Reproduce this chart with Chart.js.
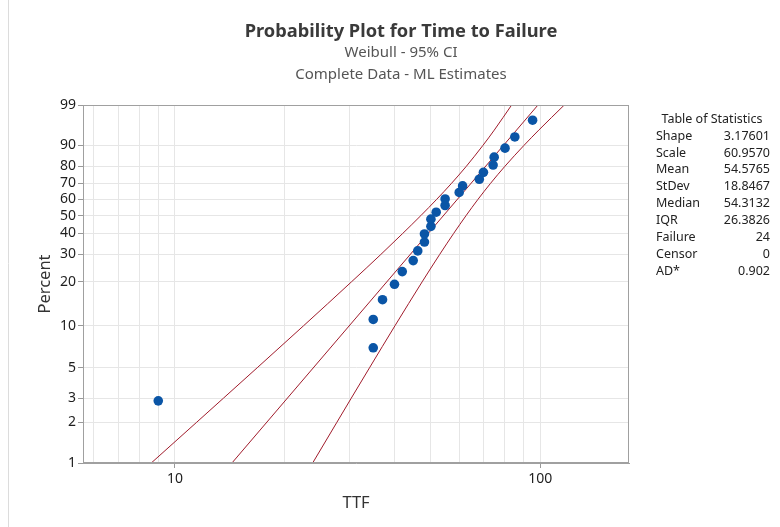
<!DOCTYPE html>
<html><head><meta charset="utf-8">
<script src="https://cdn.jsdelivr.net/npm/chart.js@4.4.1/dist/chart.umd.min.js"></script>
<style>html,body{margin:0;padding:0;background:#fff}</style>
</head><body>
<canvas id="c" width="780" height="527"></canvas>
<script>
// ---- data ----
const ttf = [9.0, 34.9, 34.9, 37.0, 39.9, 41.9, 44.9, 46.2, 48.2, 48.2, 50.2, 50.2,
             51.9, 54.9, 54.9, 60.0, 61.3, 68.1, 69.9, 74.3, 74.8, 80.1, 85.2, 95.3];
const percent = [2.869, 6.967, 11.066, 15.164, 19.262, 23.361, 27.459, 31.557, 35.656, 39.754, 43.852, 47.951,
                 52.049, 56.148, 60.246, 64.344, 68.443, 72.541, 76.639, 80.738, 84.836, 88.934, 93.033, 97.131];
const fitT = [14.32, 98.60];
const fitP = [1, 99];
const ciP     = [1, 2, 3, 5, 10, 20, 30, 40, 50, 60, 70, 80, 90, 95, 99];
const ciLower = [8.61, 11.47, 13.57, 16.79, 22.50, 30.42, 36.61, 42.02, 47.10, 52.06, 57.15, 62.71, 69.65, 74.84, 83.51];
const ciUpper = [23.82, 27.76, 30.38, 34.09, 40.03, 47.50, 53.05, 57.93, 62.64, 67.55, 73.09, 79.98, 90.21, 99.09, 116.39];
const yTicks = [1, 2, 3, 5, 10, 20, 30, 40, 50, 60, 70, 80, 90, 99];
const xGrid = [6, 7, 8, 9, 10, 20, 30, 40, 50, 60, 70, 80, 90, 100];
const xLabels = [10, 100];
const xMin = 5.6, xMax = 175;
const titleText = 'Probability Plot for Time to Failure';
const subTexts = ['Weibull - 95% CI', 'Complete Data - ML Estimates'];
const statTitle = 'Table of Statistics';
const statLabels = ['Shape', 'Scale', 'Mean', 'StDev', 'Median', 'IQR', 'Failure', 'Censor', 'AD*'];
const statValues = ['3.17601', '60.9570', '54.5765', '18.8467', '54.3132', '26.3826', '24', '0', '0.902'];

// Weibull probability axis transform
const wb = p => Math.log(-Math.log(1 - p / 100));
const pts = (xs, ps) => xs.map((x, i) => ({x: x, y: wb(ps[i])}));

const FONT = "'Noto Sans', 'Open Sans', sans-serif";
const RED = '#a01b2b';

const decor = {
  id: 'decor',
  beforeDraw(chart) {
    const c = chart.ctx;
    c.save();
    c.strokeStyle = '#dcdcdc'; c.lineWidth = 1;
    c.beginPath(); c.moveTo(8.5, 0); c.lineTo(8.5, 527); c.stroke();
    c.restore();
  },
  afterDraw(chart) {
    const c = chart.ctx, a = chart.chartArea;
    c.save();
    c.strokeStyle = '#a0a0a0'; c.lineWidth = 1;
    c.strokeRect(Math.round(a.left) + 0.5, Math.round(a.top) + 0.5,
                 Math.round(a.right - a.left) - 1, Math.round(a.bottom - a.top) - 1);
    c.textAlign = 'center'; c.textBaseline = 'middle';
    c.fillStyle = '#3a3a3a';
    c.font = "bold 18.3px " + FONT;
    c.fillText(titleText, 401, 32);
    c.fillStyle = '#555';
    c.font = "15px " + FONT;
    c.fillText(subTexts[0], 401, 53);
    c.fillText(subTexts[1], 401, 75);
    c.fillStyle = '#222';
    c.font = "12.5px " + FONT;
    c.fillText(statTitle, 712, 119);
    statLabels.forEach((l, i) => {
      const y = 136 + i * 16.95;
      c.textAlign = 'left'; c.fillText(l, 656, y);
      c.textAlign = 'right'; c.fillText(statValues[i], 770, y);
    });
    c.restore();
  }
};

const lineDs = (data) => ({
  type: 'scatter', data: data, showLine: true, borderColor: RED, borderWidth: 1,
  pointRadius: 0, fill: false, tension: 0, cubicInterpolationMode: 'monotone'
});

new Chart(document.getElementById('c'), {
  type: 'scatter',
  data: {
    datasets: [
      {data: pts(ttf, percent), backgroundColor: '#0a55a6', borderWidth: 0, pointRadius: 4.8, pointHoverRadius: 4.8},
      lineDs(pts(fitT, fitP)),
      lineDs(pts(ciLower, ciP)),
      lineDs(pts(ciUpper, ciP))
    ]
  },
  options: {
    responsive: false, animation: false, devicePixelRatio: 1,
    layout: {padding: {left: 0, right: 151, top: 105, bottom: 0}},
    plugins: {legend: {display: false}, tooltip: {enabled: false}, title: {display: false}},
    scales: {
      x: {
        type: 'logarithmic', min: xMin, max: xMax,
        afterBuildTicks: s => { s.ticks = xGrid.map(v => ({value: v})); },
        afterFit: s => { s.height = 64; },
        ticks: {
          autoSkip: false, maxRotation: 0, padding: 3, color: '#1e1e1e',
          font: {family: FONT, size: 14},
          callback: v => xLabels.includes(v) ? String(v) : ''
        },
        grid: {
          color: '#e6e6e6', lineWidth: 1, tickLength: 5,
          tickColor: ctx => (ctx.tick && xLabels.includes(ctx.tick.value)) ? '#999' : 'rgba(0,0,0,0)'
        },
        border: {display: true, color: '#a0a0a0'},
        title: {display: true, text: 'TTF', color: '#333', font: {family: FONT, size: 16.5}, padding: {top: 0, bottom: 14}}
      },
      y: {
        type: 'linear', min: wb(1), max: wb(99),
        afterBuildTicks: s => { s.ticks = yTicks.map(p => ({value: wb(p)})); },
        afterFit: s => { s.width = 83; },
        ticks: {
          autoSkip: false, padding: 2, color: '#1e1e1e',
          font: {family: FONT, size: 14},
          callback: (v, i) => String(yTicks[i])
        },
        grid: {color: '#e6e6e6', lineWidth: 1, tickLength: 5, tickColor: '#999'},
        border: {display: true, color: '#a0a0a0'},
        title: {display: true, text: 'Percent', color: '#333', font: {family: FONT, size: 16.5}, padding: {top: 35, bottom: 0}}
      }
    }
  },
  plugins: [decor]
});
</script>
</body></html>
